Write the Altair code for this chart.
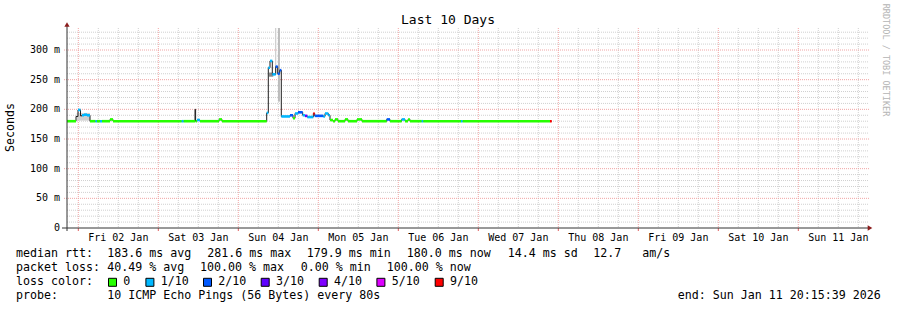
import altair as alt
import pandas as pd

# ---------------- data ----------------
# Median RTT steps. Time = hours after Thu 01 Jan 2026 00:00, median rtt in ms,
# loss = pings lost out of 10 (-1 = sample without loss colour)
seg_hours = [20.61, 23.31, 23.91, 24.66, 25.11, 25.71, 26.61, 27.51, 29.16, 29.61, 30.51, 31.11,
             33.51, 34.41, 55.02, 55.62, 59.01, 59.19, 59.61, 60.51, 66.21, 67.11,
             80.52, 81.0, 81.51, 82.2, 83.22, 83.82, 84.42, 84.9, 87.51, 88.41, 89.01, 89.91,
             91.32, 92.01, 92.7, 94.5, 94.92, 97.5, 98.01, 99.0, 99.51, 100.41, 101.01, 101.91,
             104.01, 104.91, 107.61, 109.11, 116.52, 117.51, 121.02, 122.01, 122.91, 123.51,
             127.02, 127.5, 138.81, 139.32, 165.51]
seg_median = [180, 188, 199, 189, 190, 191, 190, 180, 180, 180, 180, 180,
              183, 180, 180, 180, 200, 180, 182, 180, 183, 180,
              194, 270, 281.6, 259, 272, 260, 266, 188, 190, 185, 193, 195,
              190, 189, 187, 193, 189, 188, 193, 190, 182, 179.9, 183, 180,
              183, 180, 183, 180, 183, 180, 183, 180, 183, 180,
              180, 180, 180, 180, 180]
seg_loss = [0, -1, 1, -1, 1, 1, 1, 0, 1, 0, 1, 0,
            0, 0, 1, 0, -1, 0, 1, 0, 0, 0,
            1, 1, 1, 1, 2, 2, 2, 1, 2, 0, 1, 2,
            1, 3, 1, 9, 2, 1, 1, 1, 0, 0, 0, 0,
            0, 0, 0, 0, 2, 0, 1, 0, 0, 0,
            1, 0, 1, 0, 9]
data_end_hour = 166.02

# smoke (spread of the individual pings)
smoke_start = [23.5, 81.2, 83.0, 83.9]
smoke_end = [27.5, 82.5, 83.4, 84.5]
smoke_low = [181, 255, 258, 213]
smoke_high = [194, 262, 345, 345]
smoke_level = ["light", "dark", "light", "mid"]

# loss colour legend
loss_levels = [0, 1, 2, 3, 4, 5, 9]
loss_labels = ["0", "1/10", "2/10", "3/10", "4/10", "5/10", "9/10"]
loss_colors = ["#26ff00", "#00b8ff", "#0059ff", "#5e00ff", "#7e00ff", "#dd00ff", "#ff0000"]

# axis labels
day_noon_hours = [36, 60, 84, 108, 132, 156, 180, 204, 228, 252]
day_labels = ["Fri 02 Jan", "Sat 03 Jan", "Sun 04 Jan", "Mon 05 Jan", "Tue 06 Jan",
              "Wed 07 Jan", "Thu 08 Jan", "Fri 09 Jan", "Sat 10 Jan", "Sun 11 Jan"]
y_tick_values = [0, 50, 100, 150, 200, 250, 300]

# legend texts
row1 = ["median rtt:", "183.6 ms avg", "281.6 ms max", "179.9 ms min", "180.0 ms now",
        "14.4 ms sd", "12.7", "am/s"]
row2 = ["packet loss:", "40.49 % avg", "100.00 % max", "0.00 % min", "100.00 % now"]
row3_head = "loss color:"
row4 = ["probe:", "10 ICMP Echo Pings (56 Bytes) every 80s"]
end_text = "end: Sun Jan 11 20:15:39 2026"
title_text = "Last 10 Days"
ylabel_text = "Seconds"
watermark = "RRDTOOL / TOBI OETIKER"

# ---------------- layout ----------------
LEFT, TOP = 67, 28
W, H = 800, 200
row1_x = [16, 107.3, 207.3, 306.7, 406.7, 507.7, 593.3, 642.3]
row2_x = [16, 107.3, 200, 300.7, 386.7]
row4_x = [16, 107.3]
box_left = [108.3, 145.7, 203.3, 261, 319, 376.7, 435]
rows_y = [254, 268.3, 282.3, 296]
FONT = "DejaVu Sans Mono"
FS = 11.63
SMOKE_SHADES = {"light": "#d0d0d0", "mid": "#bcbcbc", "dark": "#8a8a8a"}

x_scale = alt.Scale(domain=[20.61, 260.61], nice=False, zero=False)
y_scale = alt.Scale(domain=[0, 337.1], nice=False, zero=False)


def X(f):
    return alt.X(f, type="quantitative", scale=x_scale, axis=None)


def Y(f):
    return alt.Y(f, type="quantitative", scale=y_scale, axis=None)


def label(text, px, py, size=FS, align="left", color="black", angle=0):
    return alt.Chart(pd.DataFrame({"t": [text]})).mark_text(
        font=FONT, fontSize=size, align=align, baseline="middle", color=color, angle=angle
    ).encode(text="t:N", x=alt.value(px - LEFT), y=alt.value(py - TOP))


# ---------------- tables ----------------
hex_of = dict(zip(loss_levels, loss_colors))
seg_end = seg_hours[1:] + [data_end_hour]
segs = pd.DataFrame({"t0": seg_hours, "t1": seg_end, "med": seg_median, "loss": seg_loss})
colored = segs[segs["loss"] >= 0].copy()
colored["col"] = colored["loss"].map(hex_of)
line_df = pd.DataFrame({"t": seg_hours + [data_end_hour], "med": seg_median + [seg_median[-1]]})
smoke = pd.DataFrame({"t0": smoke_start, "t1": smoke_end, "lo": smoke_low, "hi": smoke_high,
                      "col": [SMOKE_SHADES[l] for l in smoke_level]})

six_h = [24 + 6 * k for k in range(40) if 24 + 6 * k < 260.61]
v_major = pd.DataFrame({"h": [h for h in six_h if h % 24 == 0]})
v_minor = pd.DataFrame({"h": [h for h in six_h if h % 24 != 0]})
h_major = pd.DataFrame({"v": [v for v in range(50, 331, 10) if v % 50 == 0]})
h_minor = pd.DataFrame({"v": [v for v in range(10, 331, 10) if v % 50 != 0]})

MINOR = "#d0d0d0"
MAJOR = "#f0a4a4"

layers = []
layers.append(alt.Chart(v_minor).mark_rule(color=MINOR, strokeDash=[1, 1], strokeWidth=1).encode(x=X("h")))
layers.append(alt.Chart(v_major).mark_rule(color=MAJOR, strokeDash=[1, 1], strokeWidth=1).encode(x=X("h")))
layers.append(alt.Chart(h_minor).mark_rule(color=MINOR, strokeDash=[1, 1], strokeWidth=1).encode(
    y=Y("v"), x=alt.value(0), x2=alt.value(W + 2)))
layers.append(alt.Chart(h_major).mark_rule(color=MAJOR, strokeDash=[1, 1], strokeWidth=1).encode(
    y=Y("v"), x=alt.value(-3), x2=alt.value(W + 2)))

# smoke
layers.append(alt.Chart(smoke).mark_rect(clip=True).encode(
    x=X("t0"), x2="t1", y=Y("lo"), y2="hi", color=alt.Color("col:N", scale=None)))
# median line
layers.append(alt.Chart(line_df).mark_line(interpolate="step-after", color="#1e1e1e", strokeWidth=1).encode(
    x=X("t"), y=Y("med")))
layers.append(alt.Chart(colored).mark_rule(strokeWidth=2.6, strokeCap="butt").encode(
    x=X("t0"), x2="t1", y=Y("med"), color=alt.Color("col:N", scale=None)))

# axes
AX = "#333333"
ARROW = "#8b1c1c"
layers.append(alt.Chart(v_major).mark_rule(color="#e06060").encode(x=X("h"), y=alt.value(H), y2=alt.value(H + 3)))
layers.append(alt.Chart(pd.DataFrame({"a": [0]})).mark_rule(color=AX).encode(
    x=alt.value(-5), x2=alt.value(W + 1), y=alt.value(H)))
layers.append(alt.Chart(pd.DataFrame({"a": [0]})).mark_rule(color=AX).encode(
    x=alt.value(0), y=alt.value(H + 3), y2=alt.value(-3)))
layers.append(alt.Chart(pd.DataFrame({"a": [0]})).mark_point(shape="triangle-up", filled=True, size=28,
                                                              color=ARROW, opacity=1).encode(
    x=alt.value(0), y=alt.value(-3.5)))
layers.append(alt.Chart(pd.DataFrame({"a": [0]})).mark_point(shape="triangle-right", filled=True, size=28,
                                                              color=ARROW, opacity=1).encode(
    x=alt.value(W + 3), y=alt.value(H)))

# tick labels
ylab = pd.DataFrame({"v": y_tick_values,
                     "lab": [f"{v} m" if v else "0\u00a0\u00a0" for v in y_tick_values]})
layers.append(alt.Chart(ylab).mark_text(font=FONT, fontSize=10, align="right", baseline="middle",
                                        color="black").encode(y=Y("v"), x=alt.value(60 - LEFT), text="lab:N"))
xlab = pd.DataFrame({"h": day_noon_hours, "lab": day_labels})
layers.append(alt.Chart(xlab).mark_text(font=FONT, fontSize=10, align="center", baseline="middle",
                                        color="black").encode(x=X("h"), y=alt.value(237.7 - TOP), text="lab:N"))

# titles
layers.append(label(title_text, 448, 20, size=13, align="center"))
layers.append(label(ylabel_text, 11, 127.5, align="center", angle=270))
layers.append(label(watermark, 886, 60, size=8.5, align="center", color="#b4b4b4", angle=90))

# legend
for s, px in zip(row1, row1_x):
    layers.append(label(s, px, rows_y[0]))
for s, px in zip(row2, row2_x):
    layers.append(label(s, px, rows_y[1]))
layers.append(label(row3_head, 16, rows_y[2]))
for lab, col, bl in zip(loss_labels, loss_colors, box_left):
    layers.append(alt.Chart(pd.DataFrame({"a": [0]})).mark_square(
        size=64, fill=col, stroke="black", strokeWidth=1, opacity=1, filled=True).encode(
        x=alt.value(bl + 4.2 - LEFT), y=alt.value(rows_y[2] - TOP)))
    layers.append(label(lab, bl + 15, rows_y[2]))
for s, px in zip(row4, row4_x):
    layers.append(label(s, px, rows_y[3]))
layers.append(label(end_text, 880.7, rows_y[3], align="right"))

chart = alt.layer(*layers).properties(
    width=W, height=H,
    padding={"left": LEFT, "top": TOP, "right": 897 - LEFT - W, "bottom": 310 - TOP - H},
    autosize=alt.AutoSizeParams(type="none"),
    background="white",
).configure_view(stroke=None)

chart.save("out.html", embed_options={"renderer": "svg", "actions": False})
